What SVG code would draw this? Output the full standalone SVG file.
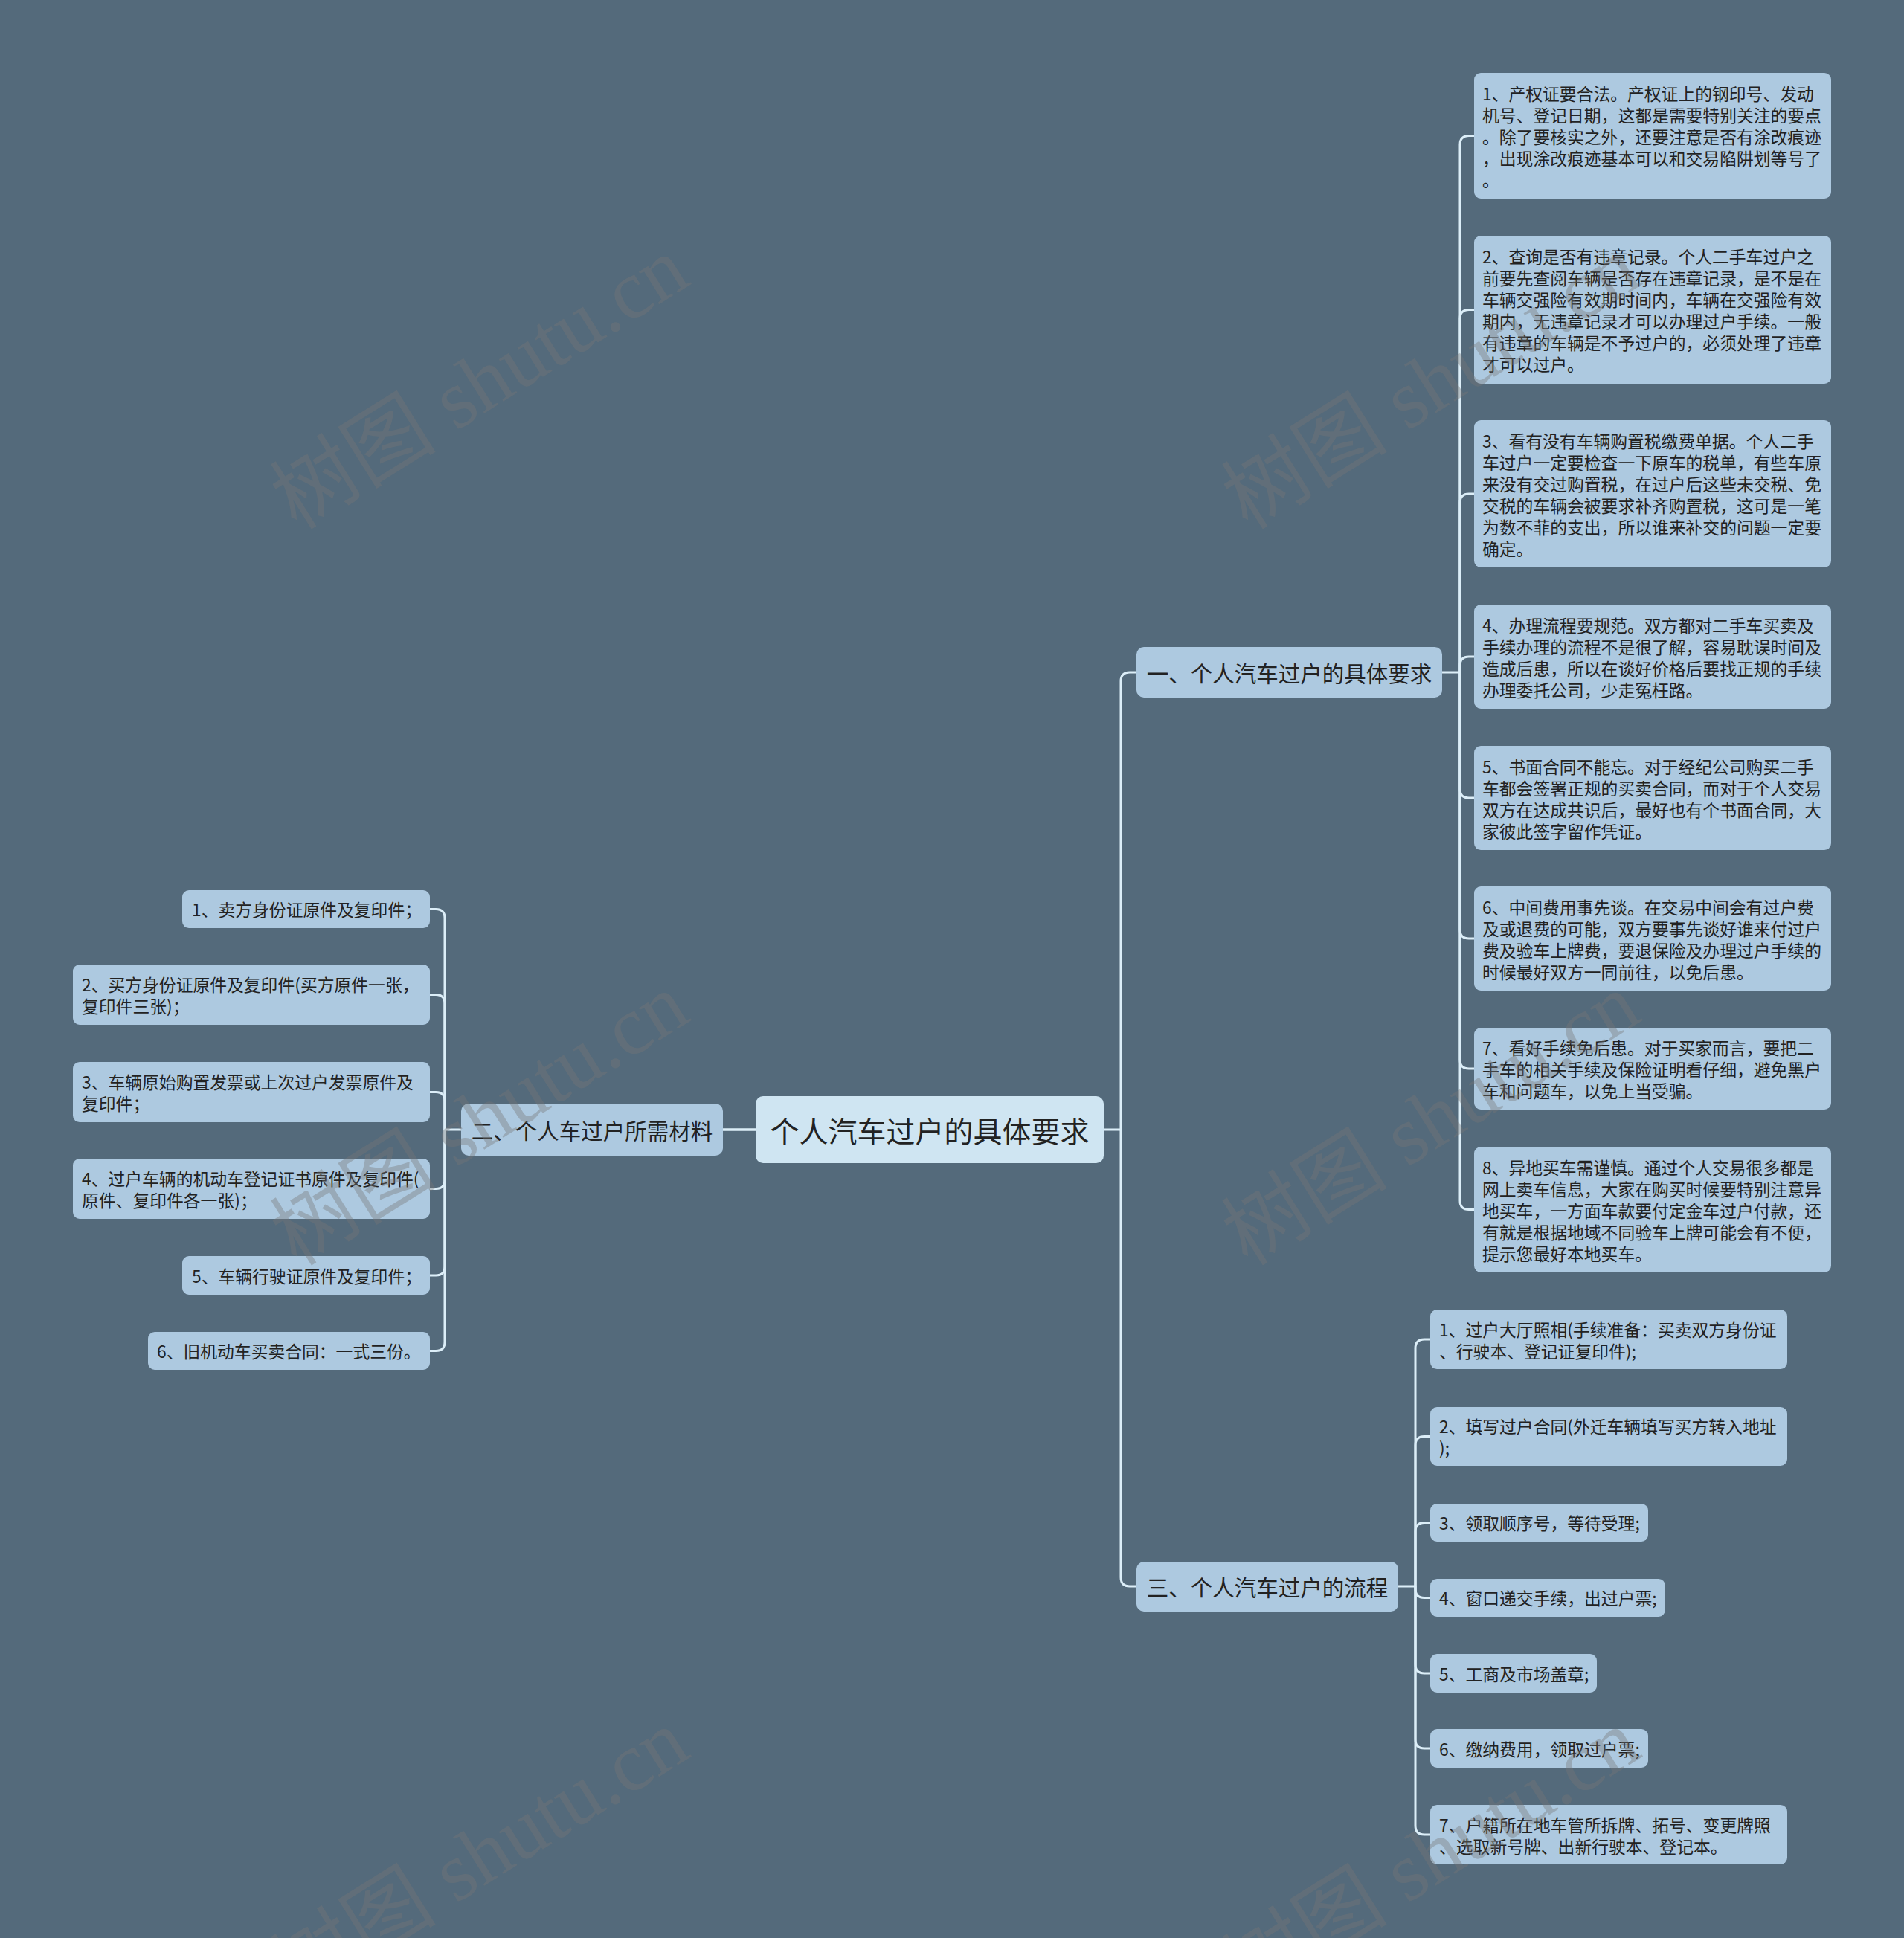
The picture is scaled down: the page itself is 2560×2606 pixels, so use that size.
<svg xmlns="http://www.w3.org/2000/svg" width="2560" height="2606" viewBox="0 0 2560 2606">
<style>
.bg{fill:#546a7b}
.leaf{fill:#adc9e0}
.center{fill:#cfe5f2}
.lt{font-family:"Noto Sans CJK SC","Liberation Sans",sans-serif;font-size:22.8px;fill:#222;dominant-baseline:central}
.bt{font-family:"Noto Sans CJK SC","Liberation Sans",sans-serif;font-size:29.5px;fill:#222;dominant-baseline:central;text-anchor:middle}
.ct{font-family:"Noto Sans CJK SC","Liberation Sans",sans-serif;font-size:39px;fill:#222;dominant-baseline:central;text-anchor:middle}
.con{fill:none;stroke:#dceef8;stroke-width:3}
.wm{font-family:"Liberation Serif","Noto Sans CJK SC",serif;font-size:112px;fill:#777;opacity:0.38}
</style>
<rect class="bg" x="0" y="0" width="2560" height="2606"/>

<g id="connectors">
<path class="con" d="M945 1519 H1016"/>
<path class="con" d="M1484 1519 H1507"/>
<path class="con" d="M1528 904 H1519 Q1507 904 1507 916 V2121 Q1507 2133 1519 2133 H1528"/>
<path class="con" d="M972 1519 H1016"/>
<path class="con" d="M620 1519 H598"/>
<path class="con" d="M1939 904 H1963"/>
<path class="con" d="M1963 904 V194.5 Q1963 182.5 1975 182.5 H1982"/>
<path class="con" d="M1963 904 V428.5 Q1963 416.5 1975 416.5 H1982"/>
<path class="con" d="M1963 904 V676 Q1963 664 1975 664 H1982"/>
<path class="con" d="M1963 904 V895 Q1963 883 1975 883 H1982"/>
<path class="con" d="M1963 904 V1061 Q1963 1073 1975 1073 H1982"/>
<path class="con" d="M1963 904 V1250 Q1963 1262 1975 1262 H1982"/>
<path class="con" d="M1963 904 V1425 Q1963 1437 1975 1437 H1982"/>
<path class="con" d="M1963 904 V1614.5 Q1963 1626.5 1975 1626.5 H1982"/>
<path class="con" d="M1880 2133 H1903"/>
<path class="con" d="M1903 2133 V1813 Q1903 1801 1915 1801 H1923"/>
<path class="con" d="M1903 2133 V1943.5 Q1903 1931.5 1915 1931.5 H1923"/>
<path class="con" d="M1903 2133 V2059.5 Q1903 2047.5 1915 2047.5 H1923"/>
<path class="con" d="M1903 2133 V2136.5 Q1903 2148.5 1915 2148.5 H1923"/>
<path class="con" d="M1903 2133 V2238 Q1903 2250 1915 2250 H1923"/>
<path class="con" d="M1903 2133 V2339 Q1903 2351 1915 2351 H1923"/>
<path class="con" d="M1903 2133 V2455 Q1903 2467 1915 2467 H1923"/>
<path class="con" d="M598 1519 V1234.5 Q598 1222.5 586 1222.5 H578"/>
<path class="con" d="M598 1519 V1349.5 Q598 1337.5 586 1337.5 H578"/>
<path class="con" d="M598 1519 V1480.5 Q598 1468.5 586 1468.5 H578"/>
<path class="con" d="M598 1519 V1586.5 Q598 1598.5 586 1598.5 H578"/>
<path class="con" d="M598 1519 V1703 Q598 1715 586 1715 H578"/>
<path class="con" d="M598 1519 V1804.5 Q598 1816.5 586 1816.5 H578"/>
</g>

<g id="center">
<rect class="center" x="1016" y="1474" width="468" height="90" rx="10"/>
<text class="ct" x="1250" y="1519">个人汽车过户的具体要求</text>
</g>

<g id="branch1">
<rect class="leaf" x="1528" y="870" width="411" height="68" rx="10"/>
<text class="bt" x="1733.5" y="904">一、个人汽车过户的具体要求</text>
</g>
<g id="branch2">
<rect class="leaf" x="620" y="1484" width="352" height="70" rx="10"/>
<text class="bt" x="796" y="1519">二、个人车过户所需材料</text>
</g>
<g id="branch3">
<rect class="leaf" x="1528" y="2100" width="352" height="67" rx="10"/>
<text class="bt" x="1704" y="2133">三、个人汽车过户的流程</text>
</g>

<g id="b1-leaf1">
<rect class="leaf" x="1982" y="98" width="480" height="169" rx="9"/>
<text class="lt"><tspan x="1993" y="124.5">1、产权证要合法。产权证上的钢印号、发动</tspan><tspan x="1993" y="153.5">机号、登记日期，这都是需要特别关注的要点</tspan><tspan x="1993" y="182.5">。除了要核实之外，还要注意是否有涂改痕迹</tspan><tspan x="1993" y="211.5">，出现涂改痕迹基本可以和交易陷阱划等号了</tspan><tspan x="1993" y="240.5">。</tspan></text>
</g>
<g id="b1-leaf2">
<rect class="leaf" x="1982" y="317" width="480" height="199" rx="9"/>
<text class="lt"><tspan x="1993" y="344">2、查询是否有违章记录。个人二手车过户之</tspan><tspan x="1993" y="373">前要先查阅车辆是否存在违章记录，是不是在</tspan><tspan x="1993" y="402">车辆交强险有效期时间内，车辆在交强险有效</tspan><tspan x="1993" y="431">期内，无违章记录才可以办理过户手续。一般</tspan><tspan x="1993" y="460">有违章的车辆是不予过户的，必须处理了违章</tspan><tspan x="1993" y="489">才可以过户。</tspan></text>
</g>
<g id="b1-leaf3">
<rect class="leaf" x="1982" y="565" width="480" height="198" rx="9"/>
<text class="lt"><tspan x="1993" y="591.5">3、看有没有车辆购置税缴费单据。个人二手</tspan><tspan x="1993" y="620.5">车过户一定要检查一下原车的税单，有些车原</tspan><tspan x="1993" y="649.5">来没有交过购置税，在过户后这些未交税、免</tspan><tspan x="1993" y="678.5">交税的车辆会被要求补齐购置税，这可是一笔</tspan><tspan x="1993" y="707.5">为数不菲的支出，所以谁来补交的问题一定要</tspan><tspan x="1993" y="736.5">确定。</tspan></text>
</g>
<g id="b1-leaf4">
<rect class="leaf" x="1982" y="813" width="480" height="140" rx="9"/>
<text class="lt"><tspan x="1993" y="839.5">4、办理流程要规范。双方都对二手车买卖及</tspan><tspan x="1993" y="868.5">手续办理的流程不是很了解，容易耽误时间及</tspan><tspan x="1993" y="897.5">造成后患，所以在谈好价格后要找正规的手续</tspan><tspan x="1993" y="926.5">办理委托公司，少走冤枉路。</tspan></text>
</g>
<g id="b1-leaf5">
<rect class="leaf" x="1982" y="1003" width="480" height="140" rx="9"/>
<text class="lt"><tspan x="1993" y="1029.5">5、书面合同不能忘。对于经纪公司购买二手</tspan><tspan x="1993" y="1058.5">车都会签署正规的买卖合同，而对于个人交易</tspan><tspan x="1993" y="1087.5">双方在达成共识后，最好也有个书面合同，大</tspan><tspan x="1993" y="1116.5">家彼此签字留作凭证。</tspan></text>
</g>
<g id="b1-leaf6">
<rect class="leaf" x="1982" y="1192" width="480" height="140" rx="9"/>
<text class="lt"><tspan x="1993" y="1218.5">6、中间费用事先谈。在交易中间会有过户费</tspan><tspan x="1993" y="1247.5">及或退费的可能，双方要事先谈好谁来付过户</tspan><tspan x="1993" y="1276.5">费及验车上牌费，要退保险及办理过户手续的</tspan><tspan x="1993" y="1305.5">时候最好双方一同前往，以免后患。</tspan></text>
</g>
<g id="b1-leaf7">
<rect class="leaf" x="1982" y="1382" width="480" height="110" rx="9"/>
<text class="lt"><tspan x="1993" y="1408">7、看好手续免后患。对于买家而言，要把二</tspan><tspan x="1993" y="1437">手车的相关手续及保险证明看仔细，避免黑户</tspan><tspan x="1993" y="1466">车和问题车，以免上当受骗。</tspan></text>
</g>
<g id="b1-leaf8">
<rect class="leaf" x="1982" y="1542" width="480" height="169" rx="9"/>
<text class="lt"><tspan x="1993" y="1568.5">8、异地买车需谨慎。通过个人交易很多都是</tspan><tspan x="1993" y="1597.5">网上卖车信息，大家在购买时候要特别注意异</tspan><tspan x="1993" y="1626.5">地买车，一方面车款要付定金车过户付款，还</tspan><tspan x="1993" y="1655.5">有就是根据地域不同验车上牌可能会有不便，</tspan><tspan x="1993" y="1684.5">提示您最好本地买车。</tspan></text>
</g>

<g id="b3-leaf1">
<rect class="leaf" x="1923" y="1761" width="480" height="80" rx="9"/>
<text class="lt"><tspan x="1935" y="1786.5">1、过户大厅照相(手续准备：买卖双方身份证</tspan><tspan x="1935" y="1815.5">、行驶本、登记证复印件);</tspan></text>
</g>
<g id="b3-leaf2">
<rect class="leaf" x="1923" y="1892" width="480" height="79" rx="9"/>
<text class="lt"><tspan x="1935" y="1917">2、填写过户合同(外迁车辆填写买方转入地址</tspan><tspan x="1935" y="1946">);</tspan></text>
</g>
<g id="b3-leaf3">
<rect class="leaf" x="1923" y="2022" width="293" height="51" rx="9"/>
<text class="lt" x="1935" y="2047.5">3、领取顺序号，等待受理;</text>
</g>
<g id="b3-leaf4">
<rect class="leaf" x="1923" y="2123" width="316" height="51" rx="9"/>
<text class="lt" x="1935" y="2148.5">4、窗口递交手续，出过户票;</text>
</g>
<g id="b3-leaf5">
<rect class="leaf" x="1923" y="2224" width="224" height="52" rx="9"/>
<text class="lt" x="1935" y="2250">5、工商及市场盖章;</text>
</g>
<g id="b3-leaf6">
<rect class="leaf" x="1923" y="2325" width="293" height="52" rx="9"/>
<text class="lt" x="1935" y="2351">6、缴纳费用，领取过户票;</text>
</g>
<g id="b3-leaf7">
<rect class="leaf" x="1923" y="2427" width="480" height="80" rx="9"/>
<text class="lt"><tspan x="1935" y="2452.5">7、户籍所在地车管所拆牌、拓号、变更牌照</tspan><tspan x="1935" y="2481.5">、选取新号牌、出新行驶本、登记本。</tspan></text>
</g>

<g id="b2-leaf1">
<rect class="leaf" x="245" y="1197" width="333" height="51" rx="9"/>
<text class="lt" x="258" y="1222.5">1、卖方身份证原件及复印件；</text>
</g>
<g id="b2-leaf2">
<rect class="leaf" x="98" y="1297" width="480" height="81" rx="9"/>
<text class="lt"><tspan x="110" y="1323">2、买方身份证原件及复印件(买方原件一张，</tspan><tspan x="110" y="1352">复印件三张)；</tspan></text>
</g>
<g id="b2-leaf3">
<rect class="leaf" x="98" y="1428" width="480" height="81" rx="9"/>
<text class="lt"><tspan x="110" y="1454">3、车辆原始购置发票或上次过户发票原件及</tspan><tspan x="110" y="1483">复印件；</tspan></text>
</g>
<g id="b2-leaf4">
<rect class="leaf" x="98" y="1558" width="480" height="81" rx="9"/>
<text class="lt"><tspan x="110" y="1584">4、过户车辆的机动车登记证书原件及复印件(</tspan><tspan x="110" y="1613">原件、复印件各一张)；</tspan></text>
</g>
<g id="b2-leaf5">
<rect class="leaf" x="245" y="1689" width="333" height="52" rx="9"/>
<text class="lt" x="258" y="1715">5、车辆行驶证原件及复印件；</text>
</g>
<g id="b2-leaf6">
<rect class="leaf" x="199" y="1791" width="379" height="51" rx="9"/>
<text class="lt" x="211" y="1816.5">6、旧机动车买卖合同：一式三份。</text>
</g>

<g id="watermarks">
<text class="wm" transform="translate(645 515) rotate(-32)" text-anchor="middle" dominant-baseline="central">树图 shutu.cn</text>
<text class="wm" transform="translate(1924 515) rotate(-32)" text-anchor="middle" dominant-baseline="central">树图 shutu.cn</text>
<text class="wm" transform="translate(645 1505) rotate(-32)" text-anchor="middle" dominant-baseline="central">树图 shutu.cn</text>
<text class="wm" transform="translate(1924 1505) rotate(-32)" text-anchor="middle" dominant-baseline="central">树图 shutu.cn</text>
<text class="wm" transform="translate(645 2495) rotate(-32)" text-anchor="middle" dominant-baseline="central">树图 shutu.cn</text>
<text class="wm" transform="translate(1924 2495) rotate(-32)" text-anchor="middle" dominant-baseline="central">树图 shutu.cn</text>
</g>
</svg>
